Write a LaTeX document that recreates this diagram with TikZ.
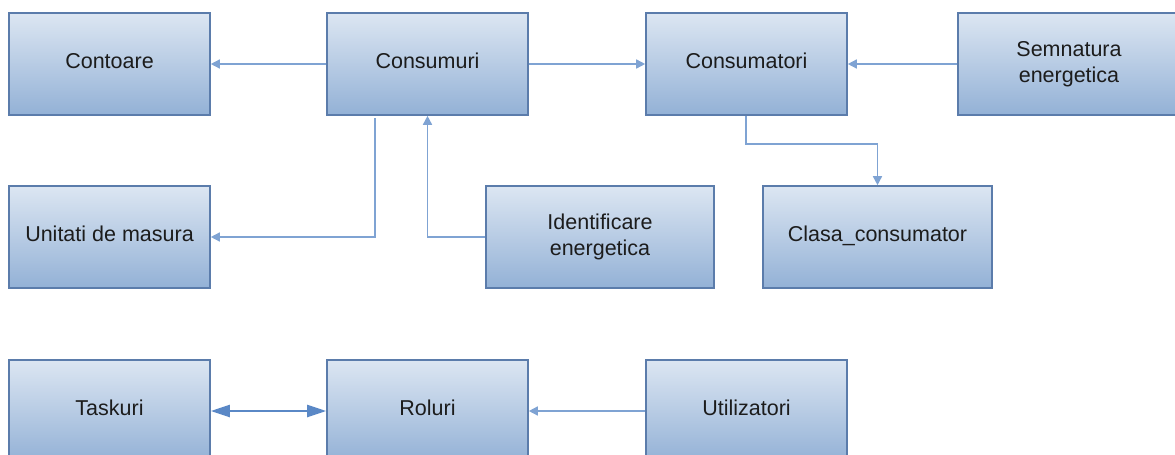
\documentclass[tikz,border=0pt]{standalone}
\usepackage{fontspec}
\setmainfont{Liberation Sans}
\usetikzlibrary{arrows.meta}

\definecolor{boxtop}{HTML}{DCE6F2}
\definecolor{boxbottom}{HTML}{93B1D6}
\definecolor{boxline}{HTML}{5B7CAB}
\definecolor{linkline}{HTML}{7FA3D3}
\definecolor{duallink}{HTML}{5A88C6}
\definecolor{labeltext}{HTML}{1C1C1C}

\tikzset{
  entity/.style={rectangle, draw=boxline, line width=1.6pt,
    top color=boxtop, bottom color=boxbottom, inner sep=0pt,
    minimum height=102pt, text=labeltext, align=center,
    font=\fontsize{21.5}{25.5}\selectfont},
  oneline/.style={entity, text height=14.4pt, text depth=5pt},
  link/.style={draw=linkline, line width=1.5pt,
    -{Triangle[length=9pt,width=9pt]}},
  duallink/.style={draw=duallink, line width=2.4pt,
    {Triangle[length=19pt,width=12pt]}-{Triangle[length=19pt,width=12pt]}}
}

\begin{document}
\begin{tikzpicture}[x=1pt,y=-1pt]
  \useasboundingbox (0,0) rectangle (1175,455);
  \clip (0,0) rectangle (1175,455);

  % top row
  \node[oneline, minimum width=201pt] (contoare)    at (109.5,64) {Contoare};
  \node[oneline, minimum width=201pt] (consumuri)   at (427.5,64) {Consumuri};
  \node[oneline, minimum width=201pt] (consumatori) at (746.5,64) {Consumatori};
  \node[entity,  minimum width=222pt] (semnatura)   at (1069,64) {Semnatura\\energetica};

  % middle row
  \node[oneline, minimum width=201pt] (unitati)     at (109.5,237) {Unitati de masura};
  \node[entity,  minimum width=228pt] (identif)     at (600,237) {Identificare\\energetica};
  \node[oneline, minimum width=229pt] (clasa)       at (877.5,237) {Clasa\_consumator};

  % bottom row
  \node[oneline, minimum width=201pt] (taskuri)     at (109.5,411) {Taskuri};
  \node[oneline, minimum width=201pt] (roluri)      at (427.5,411) {Roluri};
  \node[oneline, minimum width=201pt] (utiliz)      at (746.5,411) {Utilizatori};

  % connectors
  \draw[link] (consumuri.west) -- (contoare.east);
  \draw[link] (consumuri.east) -- (consumatori.west);
  \draw[link] (semnatura.west) -- (consumatori.east);

  \coordinate (unitstart) at (375,118);
  \draw[link] (unitstart) |- (unitati.east);
  \draw[link] (identif.west) -| (consumuri.south);

  \coordinate (clasastart) at ([xshift=-0.5pt]consumatori.south);
  \draw[link] (clasastart) -- ++(0,28) -| (clasa.north);

  \draw[duallink] (taskuri.east) -- (roluri.west);
  \draw[link] (utiliz.west) -- (roluri.east);
\end{tikzpicture}
\end{document}
